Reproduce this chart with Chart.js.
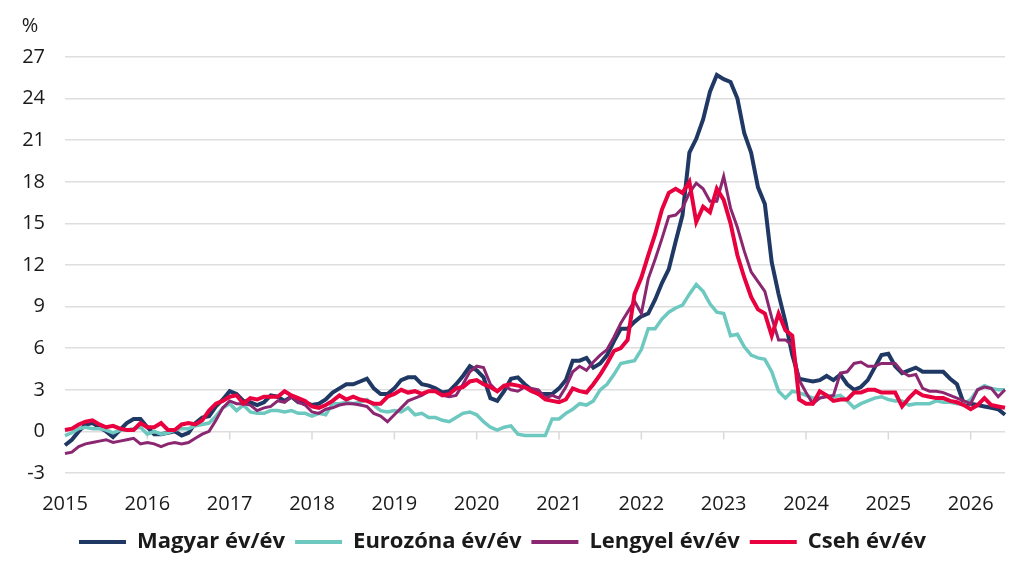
<!DOCTYPE html>
<html>
<head>
<meta charset="utf-8">
<script src="https://cdn.jsdelivr.net/npm/chart.js@4"></script>
<style>
html,body{margin:0;padding:0;background:#fff}
#wrap{width:1024px;height:578px}
</style>
</head>
<body>
<div id="wrap"><canvas id="myChart"></canvas></div>
<script>
const years = [2015,2016,2017,2018,2019,2020,2021,2022,2023,2024,2025,2026]

const seriesNames = ["Magyar év/év","Eurozóna év/év","Lengyel év/év","Cseh év/év"]

const magyar = [
-1.0,-0.6,0.0,0.5,0.6,0.3,0.0,-0.4,0.1,0.6,0.9,
0.9,0.3,-0.2,-0.2,-0.1,0.0,-0.3,-0.1,0.6,1.0,1.1,1.8,
2.3,2.9,2.7,2.2,2.1,1.9,2.1,2.6,2.5,2.2,2.5,2.1,
2.1,1.9,2.0,2.3,2.8,3.1,3.4,3.4,3.6,3.8,3.1,2.7,
2.7,3.1,3.7,3.9,3.9,3.4,3.3,3.1,2.8,2.9,3.4,4.0,
4.7,4.4,3.9,2.4,2.2,2.9,3.8,3.9,3.4,3.0,2.7,2.7,
2.7,3.1,3.7,5.1,5.1,5.3,4.6,4.9,5.5,6.5,7.4,7.4,
7.9,8.3,8.5,9.5,10.7,11.7,13.7,15.6,20.1,21.1,22.5,24.5,
25.7,25.4,25.2,24.0,21.5,20.1,17.6,16.4,12.2,9.9,7.9,5.5,
3.8,3.7,3.6,3.7,4.0,3.7,4.1,3.4,3.0,3.2,3.7,4.6,
5.5,5.6,4.7,4.2,4.4,4.6,4.3,4.3,4.3,4.3,3.8,3.4,
2.0,2.0,1.9,1.8,1.7,1.6,1.2
]

const eurozona = [
-0.3,-0.1,0.2,0.3,0.2,0.2,0.1,-0.1,0.1,0.1,0.2,
0.3,-0.2,0.0,-0.2,-0.1,0.1,0.2,0.2,0.4,0.5,0.6,1.1,
1.7,2.0,1.5,1.9,1.4,1.3,1.3,1.5,1.5,1.4,1.5,1.3,
1.3,1.1,1.3,1.2,2.0,2.0,2.1,2.0,2.1,2.3,1.9,1.5,
1.4,1.5,1.4,1.7,1.2,1.3,1.0,1.0,0.8,0.7,1.0,1.3,
1.4,1.2,0.7,0.3,0.1,0.3,0.4,-0.2,-0.3,-0.3,-0.3,-0.3,
0.9,0.9,1.3,1.6,2.0,1.9,2.2,3.0,3.4,4.1,4.9,5.0,
5.1,5.9,7.4,7.4,8.1,8.6,8.9,9.1,9.9,10.6,10.1,9.2,
8.6,8.5,6.9,7.0,6.1,5.5,5.3,5.2,4.3,2.9,2.4,2.9,
2.8,2.6,2.4,2.4,2.6,2.5,2.6,2.2,1.7,2.0,2.2,2.4,
2.5,2.3,2.2,2.2,1.9,2.0,2.0,2.0,2.2,2.1,2.1,2.0,
2.0,2.3,3.0,3.3,3.1,3.0,3.0
]

const lengyel = [
-1.6,-1.5,-1.1,-0.9,-0.8,-0.7,-0.6,-0.8,-0.7,-0.6,-0.5,
-0.9,-0.8,-0.9,-1.1,-0.9,-0.8,-0.9,-0.8,-0.5,-0.2,0.0,0.8,
1.7,2.2,2.0,2.0,1.9,1.5,1.7,1.8,2.2,2.1,2.5,2.1,
1.9,1.4,1.3,1.6,1.7,1.9,2.0,2.0,1.9,1.8,1.3,1.1,
0.7,1.2,1.7,2.2,2.4,2.6,2.9,2.9,2.6,2.5,2.6,3.4,
4.3,4.7,4.6,3.4,2.9,3.3,3.0,2.9,3.2,3.1,3.0,2.4,
2.6,2.4,3.2,4.3,4.7,4.4,5.0,5.5,5.9,6.8,7.8,8.6,
9.4,8.5,11.0,12.4,13.9,15.5,15.6,16.1,17.2,17.9,17.5,16.6,
16.6,18.4,16.1,14.7,13.0,11.5,10.8,10.1,8.2,6.6,6.6,6.2,
3.7,2.8,2.0,2.4,2.5,2.6,4.2,4.3,4.9,5.0,4.7,4.7,
4.9,4.9,4.9,4.3,4.0,4.1,3.1,2.9,2.9,2.8,2.6,2.4,
2.2,2.0,3.0,3.2,3.1,2.5,3.0
]

const cseh = [
0.1,0.2,0.5,0.7,0.8,0.5,0.3,0.4,0.2,0.1,0.1,
0.6,0.3,0.3,0.6,0.1,0.1,0.5,0.6,0.5,0.8,1.5,2.0,
2.2,2.5,2.6,2.0,2.4,2.3,2.5,2.5,2.5,2.9,2.6,2.4,
2.2,1.8,1.7,1.9,2.2,2.6,2.3,2.5,2.3,2.2,2.0,2.0,
2.5,2.7,3.0,2.8,2.9,2.7,2.9,2.9,2.6,2.7,3.1,3.2,
3.6,3.7,3.4,3.2,2.9,3.3,3.4,3.3,3.2,2.9,2.7,2.3,
2.2,2.1,2.3,3.1,2.9,2.8,3.4,4.1,4.9,5.8,6.0,6.6,
9.9,11.1,12.7,14.2,16.0,17.2,17.5,17.2,18.0,15.1,16.2,15.8,
17.5,16.7,15.0,12.7,11.1,9.7,8.8,8.5,6.9,8.5,7.3,6.9,
2.3,2.0,2.0,2.9,2.6,2.2,2.3,2.3,2.8,2.8,3.0,3.0,
2.8,2.8,2.8,1.8,2.4,2.9,2.6,2.5,2.4,2.4,2.2,2.1,
1.9,1.6,1.9,2.4,1.9,1.8,1.7
]

const yTicks = {min:-3, max:27, step:3}

const labels = []
years.forEach(y => {
  for (let m = 1; m <= 12; m++) labels.push(y + "-" + String(m).padStart(2,"0"))
})
labels.length = magyar.length

const font = "'Open Sans', 'Liberation Sans', sans-serif"

// small year tick marks on the zero line and the "%" unit label
const extras = {
  id: "extras",
  beforeDatasetsDraw(chart){
    const ctx = chart.ctx
    const x = chart.scales.x
    const y0 = chart.scales.y.getPixelForValue(0)
    ctx.save()
    ctx.strokeStyle = "#d9d9d9"
    ctx.lineWidth = 1.5
    labels.forEach((l,i) => {
      if (i > 0 && l.endsWith("-01")) {
        const px = x.getPixelForValue(i)
        ctx.beginPath()
        ctx.moveTo(px, y0)
        ctx.lineTo(px, y0 + 8)
        ctx.stroke()
      }
    })
    ctx.restore()
  },
  afterDraw(chart){
    const ctx = chart.ctx
    const top = chart.scales.y.getPixelForValue(yTicks.max)
    ctx.save()
    ctx.font = "20px " + font
    ctx.fillStyle = "#1a1a1a"
    ctx.textAlign = "center"
    ctx.textBaseline = "middle"
    ctx.fillText("%", 30, top - 31)
    ctx.restore()
  }
}

new Chart(document.getElementById("myChart"), {
  type: "line",
  data: {
    labels: labels,
    datasets: [
      {label: seriesNames[0], data: magyar, borderColor: "#1f3864", backgroundColor: "#1f3864", borderWidth: 4, order: 4},
      {label: seriesNames[1], data: eurozona, borderColor: "#6dc8c0", backgroundColor: "#6dc8c0", borderWidth: 3.5, order: 3},
      {label: seriesNames[2], data: lengyel, borderColor: "#8b2670", backgroundColor: "#8b2670", borderWidth: 3, order: 2},
      {label: seriesNames[3], data: cseh, borderColor: "#e8003f", backgroundColor: "#e8003f", borderWidth: 4, order: 1}
    ]
  },
  options: {
    responsive: true,
    maintainAspectRatio: false,
    animation: false,
    elements: {point: {radius: 0}, line: {tension: 0}},
    layout: {padding: {top: 57, right: 19, bottom: 15, left: 0}},
    scales: {
      x: {
        afterFit: s => { s.height = 48 },
        grid: {display: false},
        border: {display: false},
        ticks: {
          autoSkip: false,
          maxRotation: 0,
          padding: 11,
          color: "#1a1a1a",
          font: {family: font, size: 20},
          callback: (v,i) => labels[i].endsWith("-01") ? labels[i].slice(0,4) : null
        }
      },
      y: {
        min: yTicks.min,
        max: yTicks.max,
        afterFit: s => { s.width = 65 },
        border: {display: false},
        grid: {color: "#dedede", lineWidth: 1.5, drawTicks: false},
        ticks: {
          stepSize: yTicks.step,
          padding: 20,
          color: "#1a1a1a",
          font: {family: font, size: 20}
        }
      }
    },
    plugins: {
      tooltip: {enabled: false},
      legend: {
        position: "bottom",
        labels: {
          boxWidth: 47,
          boxHeight: 4,
          padding: 10,
          color: "#1a1a1a",
          font: {family: font, size: 22, weight: "bold"},
          sort: (a,b) => a.datasetIndex - b.datasetIndex,
          generateLabels: chart => Chart.defaults.plugins.legend.labels.generateLabels(chart).map(l => Object.assign(l, {lineWidth: 0}))
        }
      }
    }
  },
  plugins: [extras]
})
</script>
</body>
</html>
